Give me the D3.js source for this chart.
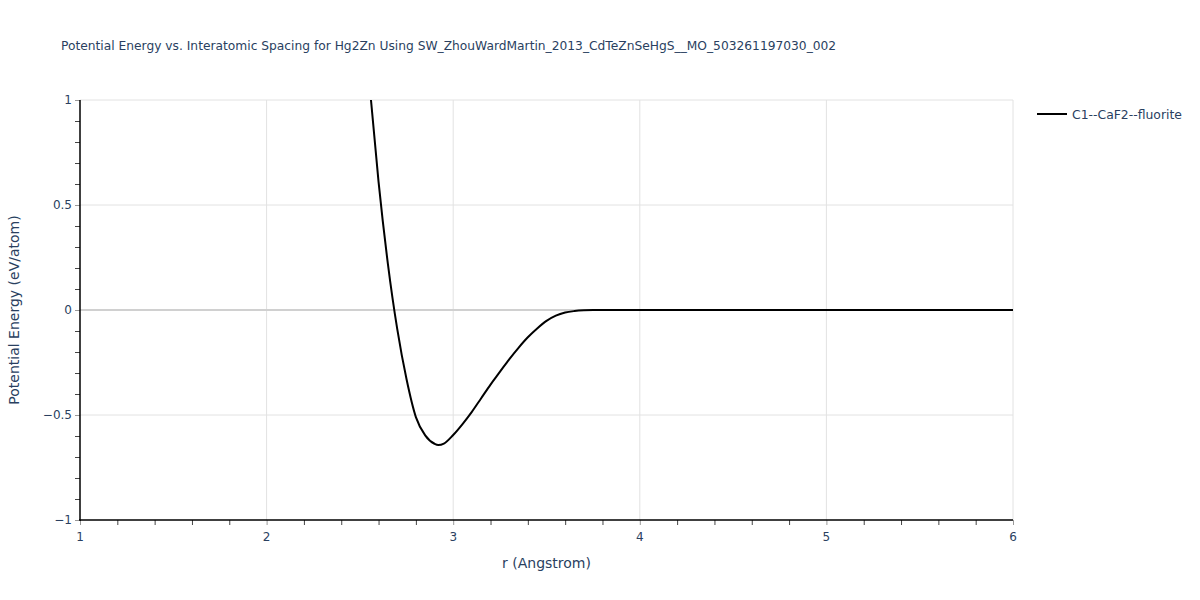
<!DOCTYPE html>
<html><head><meta charset="utf-8">
<script src="https://cdn.jsdelivr.net/npm/d3@7"></script>
<style>body{margin:0;background:#fff}svg{display:block;font-family:"DejaVu Sans",Verdana,sans-serif}</style>
</head><body><svg id="c" width="1200" height="600"></svg>
<script>
const rValues = [2.55,2.60,2.65,2.70,2.75,2.80,2.85,2.90,2.92,2.95,3.00,3.05,3.10,3.15,3.20,3.25,3.30,3.35,3.40,3.45,3.50,3.55,3.60,3.65,3.70,3.75,3.80,4.00,4.20,4.40,4.60,4.80,5.00,5.20,5.40,5.60,5.80,6.00];
const energyValues = [1.09,0.61,0.22,-0.09,-0.33,-0.51,-0.597,-0.637,-0.643,-0.636,-0.595,-0.543,-0.485,-0.42,-0.355,-0.295,-0.235,-0.18,-0.13,-0.088,-0.052,-0.027,-0.012,-0.005,-0.0015,-0.0003,0,0,0,0,0,0,0,0,0,0,0,0];
const xTicks = [1,2,3,4,5,6];
const yTicks = [-1,-0.5,0,0.5,1];
const seriesName = "C1--CaF2--fluorite";
const titleText = "Potential Energy vs. Interatomic Spacing for Hg2Zn Using SW_ZhouWardMartin_2013_CdTeZnSeHgS__MO_503261197030_002";

const svg = d3.select("#c");
const L=80, R=1013, T=100, B=520;
const x = d3.scaleLinear().domain([1,6]).range([L,R]);
const y = d3.scaleLinear().domain([-1,1]).range([B,T]);
const txt = "#2a3f5f";
const fmt = v => (v<0?"\u2212":"") + Math.abs(v);

// grid
const g = svg.append("g");
g.selectAll(".gx").data(xTicks.slice(1)).enter().append("line")
  .attr("x1",d=>x(d)).attr("x2",d=>x(d)).attr("y1",T).attr("y2",B)
  .attr("stroke","#e2e2e2").attr("stroke-width",1);
g.selectAll(".gy").data(yTicks.filter(d=>d!==0 && d!==-1)).enter().append("line")
  .attr("x1",L).attr("x2",R).attr("y1",d=>y(d)).attr("y2",d=>y(d))
  .attr("stroke","#e2e2e2").attr("stroke-width",1);
g.append("line").attr("x1",L).attr("x2",R).attr("y1",y(0)).attr("y2",y(0))
  .attr("stroke","#d0d0d0").attr("stroke-width",2);

// curve
svg.append("clipPath").attr("id","clip").append("rect")
  .attr("x",L).attr("y",T).attr("width",R-L).attr("height",B-T);
const data = rValues.map((r,i)=>[r,energyValues[i]]);
svg.append("path").datum(data).attr("clip-path","url(#clip)")
  .attr("fill","none").attr("stroke","#000").attr("stroke-width",2)
  .attr("d", d3.line().x(d=>x(d[0])).y(d=>y(d[1])).curve(d3.curveMonotoneX));

// axes
const xAxis = svg.append("g").attr("transform",`translate(0,${B})`);
xAxis.call(d3.axisBottom(x).tickValues(d3.range(1,6.001,0.2)).tickSize(5).tickFormat(""));
xAxis.select(".domain").remove();
xAxis.selectAll(".tick line").attr("stroke",d=>Math.abs(d-Math.round(d))<1e-6?"#999":"#444");
xAxis.append("line").attr("x1",L-1).attr("x2",R).attr("y1",0).attr("y2",0).attr("stroke","#000").attr("stroke-width",1.5);
svg.append("g").selectAll("text").data(xTicks).enter().append("text")
  .attr("x",d=>x(d)).attr("y",B+21).attr("text-anchor","middle")
  .attr("font-size",12).attr("fill",txt).text(d=>fmt(d));

const yAxis = svg.append("g").attr("transform",`translate(${L},0)`);
yAxis.call(d3.axisLeft(y).tickValues(d3.range(-10,10.5,1).map(v=>v/10)).tickSize(5).tickFormat(""));
yAxis.select(".domain").remove();
yAxis.selectAll(".tick line").attr("stroke",d=>Math.abs(d*2-Math.round(d*2))<1e-6?"#999":"#444");
yAxis.append("line").attr("x1",0).attr("x2",0).attr("y1",T).attr("y2",B+1).attr("stroke","#000").attr("stroke-width",1.5);
svg.append("g").selectAll("text").data(yTicks).enter().append("text")
  .attr("x",L-8).attr("y",d=>y(d)+4).attr("text-anchor","end")
  .attr("font-size",12).attr("fill",txt).text(d=>fmt(d));

// titles
svg.append("text").attr("x",61).attr("y",50).attr("font-size",12.25).attr("fill",txt).text(titleText);
svg.append("text").attr("x",(L+R)/2).attr("y",568).attr("text-anchor","middle")
  .attr("font-size",14).attr("fill",txt).text("r (Angstrom)");
svg.append("text").attr("transform",`translate(19,${(T+B)/2}) rotate(-90)`).attr("text-anchor","middle")
  .attr("font-size",14).attr("fill",txt).text("Potential Energy (eV/atom)");

// legend
svg.append("line").attr("x1",1037).attr("x2",1067).attr("y1",114).attr("y2",114).attr("stroke","#000").attr("stroke-width",2);
svg.append("text").attr("x",1072).attr("y",118.5).attr("font-size",12.4).attr("fill",txt).text(seriesName);
</script></body></html>
